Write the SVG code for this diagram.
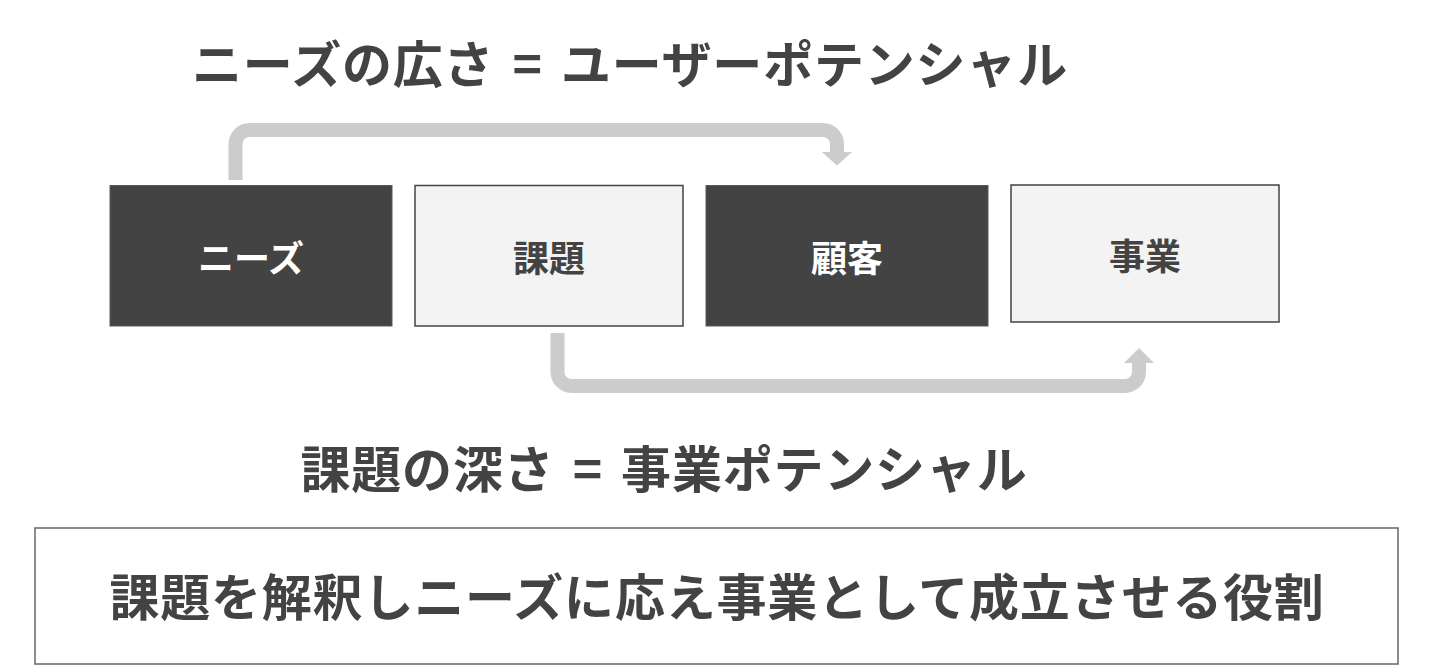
<svg xmlns="http://www.w3.org/2000/svg" width="1440" height="670" viewBox="0 0 1440 670">
  <style>
    .t { font-family: "Noto Sans CJK JP", "Noto Sans", sans-serif; font-weight: bold; fill: #434343; }
    .big { font-size: 50px; letter-spacing: 0.8px; word-spacing: 6px; }
    .lbl { font-size: 36px; text-anchor: middle; dominant-baseline: central; }
    .dark rect { fill: #434343; stroke: #5a5a5a; stroke-width: 1; }
    .dark text { fill: #ffffff; }
    .light rect { fill: #f3f3f3; stroke: #434343; stroke-width: 1.5; }
    .conn path { fill: none; stroke: #cccccc; stroke-width: 14; stroke-linecap: butt; }
    .conn polygon { fill: #cccccc; }
  </style>
  <rect width="1440" height="670" fill="#ffffff"/>

  <text class="t big" x="630" y="83" text-anchor="middle">ニーズの広さ = ユーザーポテンシャル</text>
  <text class="t big" x="664" y="488" text-anchor="middle">課題の深さ = 事業ポテンシャル</text>

  <g id="connectors" class="conn">
    <path d="M235.5 180 V144 A14 14 0 0 1 249.5 130 H823 A14 14 0 0 1 837 144 V153"/>
    <polygon points="822,152 852,152 837,165.5"/>
    <path d="M557.5 333 V372 A14 14 0 0 0 571.5 386 H1125 A14 14 0 0 0 1139 372 V362"/>
    <polygon points="1124,363 1154,363 1139,348"/>
  </g>

  <g id="node-needs" class="dark">
    <rect x="110" y="185.5" width="282" height="140.5"/>
    <text class="t lbl" x="251" y="255.5">ニーズ</text>
  </g>
  <g id="node-issue" class="light">
    <rect x="415" y="185.5" width="268" height="140.5"/>
    <text class="t lbl" x="549" y="255.5">課題</text>
  </g>
  <g id="node-customer" class="dark">
    <rect x="706" y="185.5" width="282" height="140.5"/>
    <text class="t lbl" x="847" y="255.5">顧客</text>
  </g>
  <g id="node-business" class="light">
    <rect x="1011" y="185" width="268" height="137"/>
    <text class="t lbl" x="1145" y="253.5">事業</text>
  </g>

  <g id="node-role">
    <rect x="35" y="528" width="1363" height="136" fill="#ffffff" stroke="#666666" stroke-width="1.5"/>
    <text class="t big" x="717" y="616" text-anchor="middle">課題を解釈しニーズに応え事業として成立させる役割</text>
  </g>
</svg>
